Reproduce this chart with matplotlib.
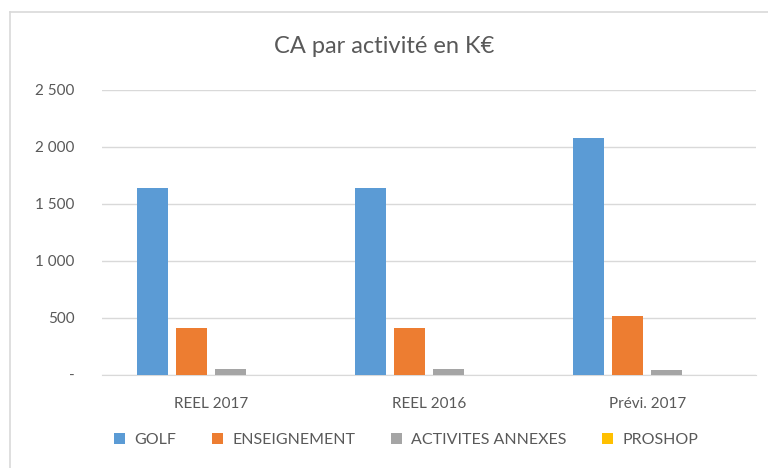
import matplotlib.pyplot as plt
import numpy as np

plt.rcParams['font.family'] = ['Lato', 'DejaVu Sans']

# Data (K€)
categories = ['REEL 2017', 'REEL 2016', 'Prévi. 2017']
series_names = ['GOLF', 'ENSEIGNEMENT', 'ACTIVITES ANNEXES', 'PROSHOP']
golf = [1640, 1640, 2080]
enseignement = [412, 412, 517]
activites = [53, 53, 44]
proshop = [0, 0, 0]

colors = ['#5B9BD5', '#ED7D31', '#A5A5A5', '#FFC000']
text_color = '#595959'

fig = plt.figure(figsize=(7.68, 4.68), dpi=100)
ax = fig.add_axes([0.133, 0.199, 0.852, 0.609])

x = np.arange(len(categories))
width = 0.142
step = 0.179
all_series = [golf, enseignement, activites, proshop]
for i, (vals, name, c) in enumerate(zip(all_series, series_names, colors)):
    ax.bar(x + (i - 1.5) * step, vals, width, color=c, label=name, zorder=3)

ax.set_xlim(-0.5, 2.5)
ax.set_ylim(0, 2500)
ax.set_yticks([0, 500, 1000, 1500, 2000, 2500])
ax.set_yticklabels(['-', '500', '1 000', '1 500', '2 000', '2 500'])
ax.set_xticks(x)
ax.set_xticklabels(categories)
ax.tick_params(axis='both', length=0, labelsize=11, colors=text_color)
ax.tick_params(axis='x', pad=16)
ax.tick_params(axis='y', pad=20)
ax.grid(axis='y', color='#D9D9D9', linewidth=1, zorder=0)
for s in ['top', 'right', 'left']:
    ax.spines[s].set_visible(False)
ax.spines['bottom'].set_color('#D9D9D9')

fig.text(0.5, 0.9, 'CA par activité en K€', ha='center', va='center',
         fontsize=17, color=text_color)

ax.legend(loc='center', bbox_to_anchor=(0.529, 0.06), bbox_transform=fig.transFigure,
          ncol=4, frameon=False, fontsize=11.5, labelcolor=text_color,
          handlelength=0.7, handleheight=0.7, handletextpad=0.6, columnspacing=2.2)

# chart border
fig.add_artist(plt.Line2D([10 / 768, 10 / 768], [0, 1 - 12 / 468], transform=fig.transFigure,
                          color='#D9D9D9', linewidth=1.2))
fig.add_artist(plt.Line2D([10 / 768, 1], [1 - 12 / 468, 1 - 12 / 468], transform=fig.transFigure,
                          color='#D9D9D9', linewidth=1.2))

plt.savefig('out.png', dpi=100)
